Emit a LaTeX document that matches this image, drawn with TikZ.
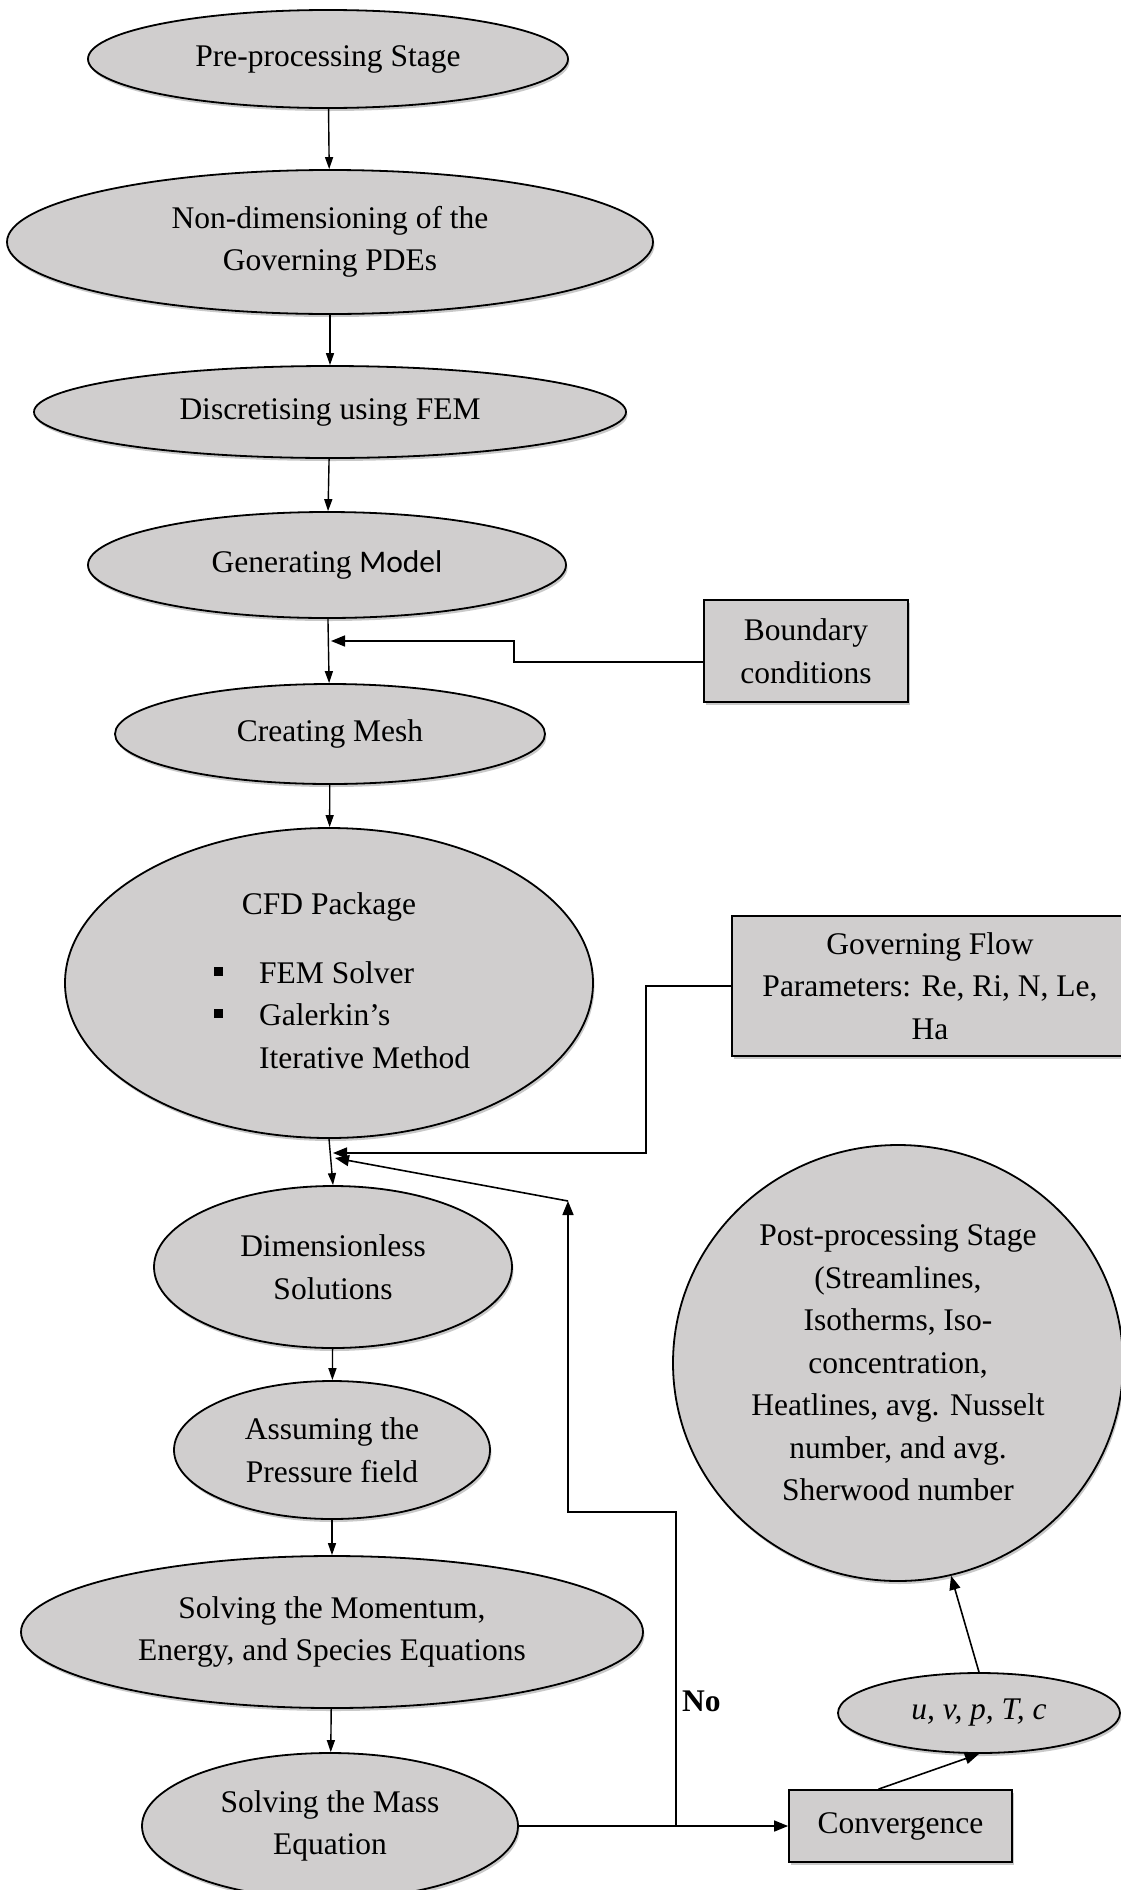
\documentclass[tikz,border=0pt]{standalone}
\usepackage{fontspec}
\setmainfont{Liberation Serif}
\newfontfamily\calfont{Carlito}
\usetikzlibrary{shapes.geometric,arrows.meta,shadows}
\definecolor{nodegray}{RGB}{208,206,206}
\tikzset{
  base/.style={font=\fontsize{31.5}{42.5}\selectfont},
  shad/.style={drop shadow={shadow xshift=1.5pt,shadow yshift=-3pt,opacity=0.3,fill=black!70}},
  ell/.style={ellipse,draw,line width=1.8pt,fill=nodegray,inner sep=0pt,align=center,shad},
  boxnode/.style={rectangle,draw,line width=1.8pt,fill=nodegray,inner sep=0pt,align=center,shad},
  arr/.style={line width=1.4pt,-{Triangle[length=12pt,width=8pt]}},
  arrbig/.style={line width=1.6pt,-{Triangle[length=14pt,width=11pt]}},
  bulletsq/.style={fill=black,minimum width=9pt,minimum height=9pt,inner sep=0pt}
}
\begin{document}
\begin{tikzpicture}[x=1pt,y=-1pt,base]
\useasboundingbox (0,0) rectangle (1120,1890);

% main column
\node[ell,minimum width=480pt,minimum height=98pt] (pre) at (328,59) {Pre-processing Stage};
\node[ell,minimum width=646pt,minimum height=144pt] (nondim) at (330,242) {Non-dimensioning of the\\Governing PDEs};
\node[ell,minimum width=592pt,minimum height=92pt] (disc) at (330,412) {Discretising using FEM};
\node[ell,minimum width=478pt,minimum height=106pt] (gen) at (327,565) {Generating {\calfont Model}};
\node[ell,minimum width=430pt,minimum height=100pt] (mesh) at (330,734) {Creating Mesh};
\node[ell,minimum width=528pt,minimum height=310pt] (cfd) at (329,983) {};
\node[anchor=base] (cfdtitle) at (329,914) {CFD Package};
\node[bulletsq] (b1) at (218,971) {};
\node[anchor=base west,inner sep=0pt] (it1) at (259,983) {FEM Solver};
\node[bulletsq] (b2) at (218,1013) {};
\node[anchor=base west,inner sep=0pt] (it2) at (259,1025) {Galerkin’s};
\node[anchor=base west,inner sep=0pt] (it3) at (259,1068) {Iterative Method};
\node[ell,minimum width=358pt,minimum height=162pt] (dimless) at (333,1267) {Dimensionless\\Solutions};
\node[ell,minimum width=316pt,minimum height=138pt] (assume) at (332,1450) {Assuming the\\Pressure field};
\node[ell,minimum width=622pt,minimum height=152pt] (mom) at (332,1632) {Solving the Momentum,\\Energy, and Species Equations};
\node[ell,minimum width=376pt,minimum height=146pt] (mass) at (330,1826) {Solving the Mass\\Equation};

% side boxes
\node[boxnode,minimum width=204pt,minimum height=102pt] (bc) at (806,651) {Boundary\\conditions};
\node[boxnode,minimum width=396pt,minimum height=140pt] (gov) at (930,986) {Governing Flow\\Parameters: Re, Ri, N, Le,\\Ha};
\node[boxnode,minimum width=223pt,minimum height=72pt] (conv) at (900.5,1826) {Convergence};
\node[ell,minimum width=282pt,minimum height=80pt] (uvp) at (979,1713) {\itshape u, v, p, T, c};
\node[ell,minimum width=450pt,minimum height=436pt] (post) at (898,1363) {Post-processing Stage\\(Streamlines,\\Isotherms, Iso-\\concentration,\\Heatlines, avg. Nusselt\\number, and avg.\\Sherwood number};
\node[anchor=west,inner sep=0pt,font=\fontsize{31.5}{42.5}\selectfont\bfseries] (nolabel) at (682,1701) {No};

% junction coordinates
\coordinate (j1) at (331,641);
\coordinate (bturn) at (514,662);
\coordinate (j2) at (333,1153);
\coordinate (j3) at (335,1158);
\coordinate (gturn) at (646,986);
\coordinate (nj) at (676,1826);
\coordinate (nturn) at (676,1512);
\coordinate (nb) at (568,1201);

% main arrows
\draw[arr] (pre) -- (nondim);
\draw[arr] (nondim) -- (disc);
\draw[arr] (disc) -- (gen);
\draw[arr] (gen) -- (mesh);
\draw[arr] (mesh) -- (cfd);
\draw[arr] (cfd.south) -- (dimless.north);
\draw[arr] (dimless) -- (assume);
\draw[arr] (assume) -- (mom);
\draw[arr] (mom) -- (mass);

% side connectors
\draw[arrbig] ([yshift=-11pt]bc.west) -- (bturn) |- (j1);
\draw[arrbig] (gov.west) -- (gturn) |- (j2);
\draw[arrbig] (mass.east) -- (conv.west);
\draw[arrbig] (nj) -- (nturn) -| (nb);
\draw[arrbig] (nb) -- (j3);
\draw[arrbig] ([xshift=-22pt]conv.north) -- (uvp.south);
\draw[arrbig] (uvp.north) -- (post.-76);
\end{tikzpicture}
\end{document}
